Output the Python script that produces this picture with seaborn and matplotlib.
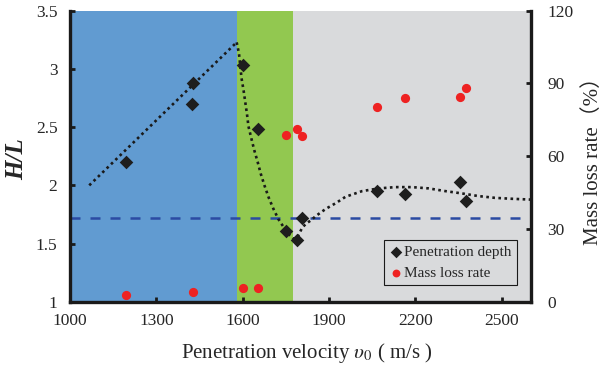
import seaborn as sns
import matplotlib.pyplot as plt

# Datos
depth_v = [1195, 1429, 1425, 1600, 1654, 1752, 1788, 1807, 2067, 2165, 2355, 2377]
depth_hl = [2.20, 2.88, 2.70, 3.03, 2.48, 1.61, 1.53, 1.72, 1.95, 1.93, 2.03, 1.87]

mass_v = [1195, 1429, 1600, 1654, 1752, 1788, 1807, 2067, 2165, 2355, 2377]
mass_rate = [3.0, 3.9, 5.6, 5.6, 68.8, 71.3, 68.4, 80.4, 84.1, 84.2, 88.2]

# Curvas de ajuste
fit1_v = [1067, 1579]
fit1_hl = [2.00, 3.227]

fit2_v = [1579, 1587, 1596, 1603, 1609, 1615, 1620, 1630, 1640, 1652, 1663, 1676,
          1690, 1706, 1724, 1746, 1759, 1775, 1788, 1807, 1821, 1838, 1855, 1889,
          1925, 1957, 2015, 2073, 2130, 2188, 2246, 2303, 2361, 2419, 2476, 2534, 2600]
fit2_hl = [3.227, 3.133, 2.918, 2.815, 2.712, 2.609, 2.506, 2.403, 2.303, 2.200, 2.097, 1.996,
           1.897, 1.802, 1.710, 1.627, 1.582, 1.545, 1.545, 1.639, 1.673, 1.702, 1.739, 1.799,
           1.850, 1.902, 1.951, 1.974, 1.985, 1.985, 1.974, 1.951, 1.931, 1.908, 1.893, 1.885, 1.878]

critical_hl = 1.72

region_edges = [1000, 1580, 1775, 2600]
region_colors = ['#619bd1', '#92c850', '#d9dadc']

x_ticks = [1000, 1300, 1600, 1900, 2200, 2500]
y_ticks = [1, 1.5, 2, 2.5, 3, 3.5]
y2_ticks = [0, 30, 60, 90, 120]

sns.set_style('ticks')
plt.rcParams['font.family'] = ['Liberation Serif', 'Noto Sans CJK SC']
plt.rcParams['mathtext.fontset'] = 'stix'

fig, ax = plt.subplots(figsize=(6.03, 3.76), dpi=100)
fig.subplots_adjust(left=0.116, right=0.880, bottom=0.197, top=0.972)

# Zonas de color
for lo, hi, c in zip(region_edges[:-1], region_edges[1:], region_colors):
    ax.axvspan(lo, hi, color=c, lw=0, zorder=0)

ax.axhline(critical_hl, color='#2b4ba3', lw=1.8, ls=(0, (4, 4)), zorder=2)

sns.lineplot(x=fit1_v, y=fit1_hl, ax=ax, color='#1a1a1a', lw=1.9, ls=(0, (1, 1.3)),
             sort=False, estimator=None, zorder=3)
sns.lineplot(x=fit2_v, y=fit2_hl, ax=ax, color='#1a1a1a', lw=1.9, ls=(0, (1, 1.3)),
             sort=False, estimator=None, zorder=3)

sns.scatterplot(x=depth_v, y=depth_hl, ax=ax, marker='D', s=48, color='#1e1e1e',
                linewidth=0, zorder=4, label='Penetration depth')

ax.set_xlim(1000, 2600)
ax.set_ylim(1, 3.5)
ax.set_xticks(x_ticks)
ax.set_yticks(y_ticks)
ax.set_yticklabels(['1', '1.5', '2', '2.5', '3', '3.5'])

ax2 = ax.twinx()
sns.scatterplot(x=mass_v, y=mass_rate, ax=ax2, marker='o', s=44, color='#ee2222',
                linewidth=0, zorder=5, label='Mass loss rate')
ax2.set_ylim(0, 120)
ax2.set_yticks(y2_ticks)

for a in (ax, ax2):
    a.tick_params(axis='both', direction='in', length=3.5, width=2, labelsize=12.5,
                  color='#1a1a1a')
    for s in a.spines.values():
        s.set_linewidth(2.4)
        s.set_color('#1a1a1a')
ax.tick_params(axis='y', pad=9)
ax.tick_params(axis='x', pad=8)
ax2.tick_params(axis='y', pad=12)
ax.spines['top'].set_visible(False)
ax.spines['right'].set_visible(False)
ax2.spines['top'].set_visible(False)
ax2.spines['left'].set_visible(False)
ax2.spines['bottom'].set_visible(False)

ax.set_xlabel(r'Penetration velocity $\upsilon_0$ ( m/s )', fontsize=15)
ax.xaxis.set_label_coords(0.515, -0.135)
ax.set_ylabel('H/L', fontsize=18, fontweight='bold', fontstyle='italic')
ax.yaxis.set_label_coords(-0.09, 0.49)
ax2.set_ylabel('Mass loss rate（%）', fontsize=15)
ax2.yaxis.set_label_coords(1.113, 0.5)

# Leyenda combinada
h1, l1 = ax.get_legend_handles_labels()
h2, l2 = ax2.get_legend_handles_labels()
if ax.get_legend() is not None:
    ax.get_legend().remove()
if ax2.get_legend() is not None:
    ax2.get_legend().remove()
leg = ax2.legend(h1 + h2, l1 + l2, loc='lower right', bbox_to_anchor=(0.97, 0.058),
                 frameon=True, fancybox=False, edgecolor='#1a1a1a', facecolor='#d9dadc',
                 framealpha=1, fontsize=11, handletextpad=0.05, handlelength=0.9,
                 borderpad=0.35, labelspacing=0.45, markerscale=0.85, borderaxespad=0)
leg.get_frame().set_linewidth(0.8)

plt.savefig('out.png', dpi=100)
